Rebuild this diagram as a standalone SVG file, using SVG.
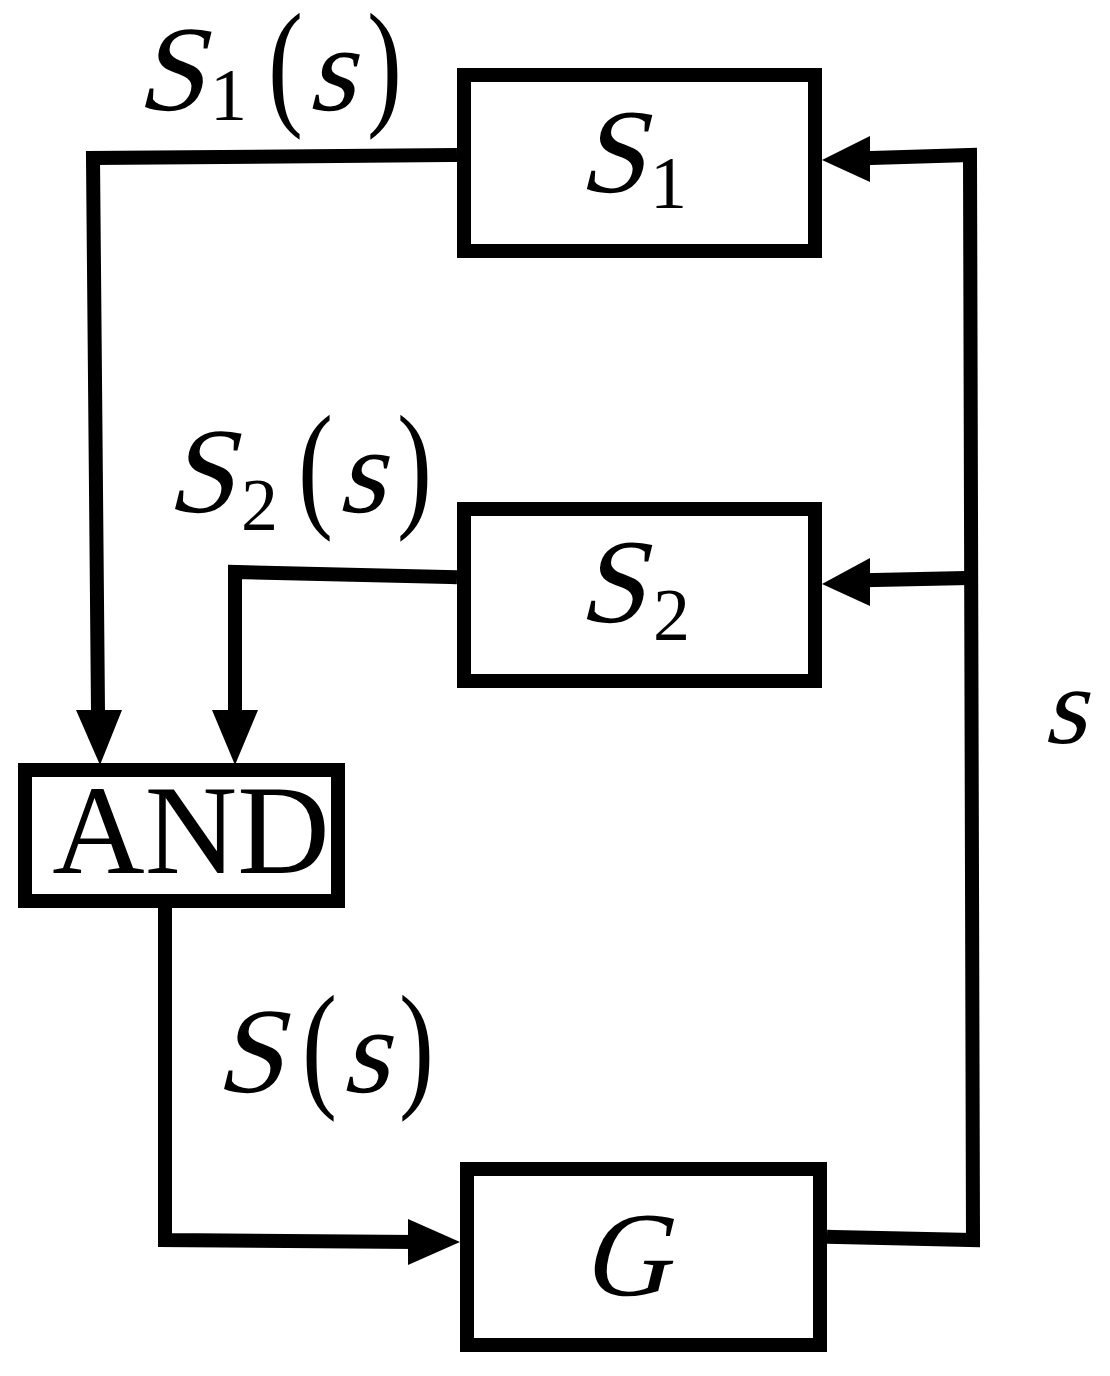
<svg xmlns="http://www.w3.org/2000/svg" width="1110" height="1376" viewBox="0 0 1110 1376">
<style>
.box{fill:none;stroke:#000;stroke-width:14}
.ln{fill:none;stroke:#000;stroke-width:14;stroke-linejoin:miter;stroke-linecap:square}
text{font-family:"Liberation Serif","Times New Roman",serif;fill:#000}
.big{font-size:122px}
.bx{font-size:120px}
.sb{font-size:74px}
.par{font-size:140px}
</style>
<rect width="1110" height="1376" fill="#fff"/>
<g id="connectors">
<path class="ln" d="M450,155 L93,158 L98,712"/>
<path d="M76,710 L122,710 L100,765 Z"/>
<path class="ln" d="M450,577 L235,572 L235,712"/>
<path d="M212,710 L258,710 L235,765 Z"/>
<path class="ln" d="M165,915 L165,1240 L410,1242"/>
<path d="M408,1219 L460,1242 L408,1265 Z"/>
<path class="ln" d="M834,1237 L973,1240 L970,155 L870,158"/>
<path d="M870,136 L822,160 L870,182 Z"/>
<path class="ln" d="M970,578 L870,580"/>
<path d="M870,558 L822,584 L870,606 Z"/>
</g>
<g id="S1">
<rect class="box" x="464" y="75" width="351" height="176"/>
<text class="bx" transform="translate(578,192) skewX(-14)">S</text>
<text class="sb" x="650" y="208">1</text>
</g>
<g id="S2">
<rect class="box" x="464" y="509" width="351" height="172"/>
<text class="bx" transform="translate(578,622) skewX(-14)">S</text>
<text class="sb" x="653" y="640">2</text>
</g>
<g id="AND">
<rect class="box" x="25" y="770" width="313" height="131"/>
<text x="191" y="873" font-size="128" text-anchor="middle">AND</text>
</g>
<g id="G">
<rect class="box" x="467" y="1169" width="353" height="176"/>
<text class="bx" transform="translate(582,1295) skewX(-14)">G</text>
</g>
<g id="labels">
<text class="big" transform="translate(136,110) skewX(-14)">S</text>
<text class="sb" x="210" y="120">1</text>
<text class="par" transform="translate(268,110) scale(0.75,1)">(</text>
<text class="big" transform="translate(307,110) skewX(-14)">s</text>
<text class="par" transform="translate(367,110) scale(0.75,1)">)</text>

<text class="big" transform="translate(166,512) skewX(-14)">S</text>
<text class="sb" x="241" y="530">2</text>
<text class="par" transform="translate(298,512) scale(0.75,1)">(</text>
<text class="big" transform="translate(337,512) skewX(-14)">s</text>
<text class="par" transform="translate(397,512) scale(0.75,1)">)</text>

<text class="big" transform="translate(215,1092) skewX(-14)">S</text>
<text class="par" transform="translate(302,1092) scale(0.75,1)">(</text>
<text class="big" transform="translate(341,1092) skewX(-14)">s</text>
<text class="par" transform="translate(399,1092) scale(0.75,1)">)</text>

<text font-size="110" transform="translate(1043,743) skewX(-14)">s</text>
</g>
</svg>
